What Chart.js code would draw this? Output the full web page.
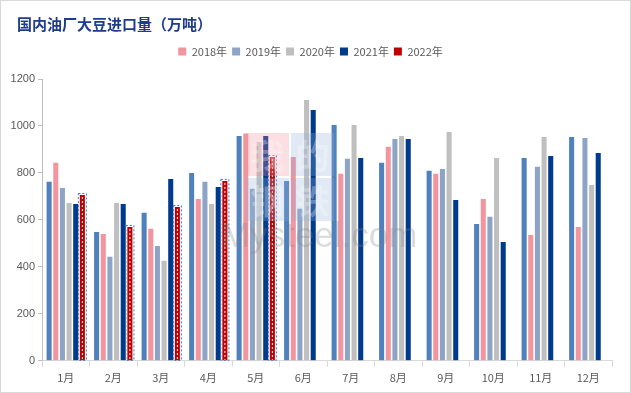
<!DOCTYPE html>
<html>
<head>
<meta charset="utf-8">
<script src="https://cdn.jsdelivr.net/npm/chart.js@4.4.1/dist/chart.umd.min.js"></script>
<style>
  body { margin: 0; background: #fff; }
  #box { width: 631px; height: 393px; box-sizing: border-box; border: 1px solid #d9d9d9; position: relative; }
  canvas { display: block; }
</style>
</head>
<body>
<div id="box"><canvas id="chart" width="629" height="391"></canvas></div>
<script>
// 国内油厂大豆进口量 (万吨)
var months = ['1月', '2月', '3月', '4月', '5月', '6月', '7月', '8月', '9月', '10月', '11月', '12月'];
var yearLabels = ['2017年', '2018年', '2019年', '2020年', '2021年', '2022年'];
var y2017 = [762, 549, 630, 800, 957, 766, 1004, 843, 809, 583, 864, 953];
var y2018 = [843, 540, 562, 689, 968, 868, 796, 911, 796, 689, 536, 570];
var y2019 = [736, 443, 489, 762, 733, 648, 860, 945, 817, 613, 826, 949];
var y2020 = [672, 672, 426, 668, 932, 1111, 1004, 957, 974, 864, 953, 749];
var y2021 = [668, 668, 774, 740, 957, 1068, 864, 945, 685, 506, 872, 885];
var y2022 = [706, 570, 655, 766, 868, null, null, null, null, null, null, null];
var yTicks = [0, 200, 400, 600, 800, 1000, 1200];

var colors = ['#4f81bd', '#f2959f', '#8ea4c6', '#bfbfbf', '#003a8c', '#c00000'];

// extra room under the legend, title nudged right
var layoutTweak = {
  id: 'layoutTweak',
  beforeInit: function(chart) {
    var fit = chart.legend.fit;
    chart.legend.fit = function() {
      fit.bind(chart.legend)();
      this.height += 12;
    };
  },
  afterLayout: function(chart) {
    chart.titleBlock.left = 16;
  }
};

// dashed look of the 2022 bars + faint watermark
var decoPlugin = {
  id: 'deco',
  afterDatasetsDraw: function(chart) {
    var ctx = chart.ctx;
    var meta = chart.getDatasetMeta(5);
    ctx.save();
    meta.data.forEach(function(bar, i) {
      if (y2022[i] == null) return;
      var w = bar.width, left = bar.x - w / 2, top = bar.y, h = bar.base - bar.y;
      ctx.setLineDash([2, 2]);
      ctx.strokeStyle = '#ffffff';
      ctx.lineWidth = 1;
      ctx.beginPath();
      ctx.moveTo(bar.x, top + 2);
      ctx.lineTo(bar.x, bar.base);
      ctx.stroke();
      ctx.strokeStyle = '#3a78c8';
      ctx.strokeRect(left - 1.5, top - 1.5, w + 3, h + 1.5);
    });
    ctx.restore();

    // watermark
    ctx.save();
    ctx.globalAlpha = 0.28;
    var wx = 245, wy = 132, s = 43;
    var cells = [['我', '#f08c96'], ['的', '#8fb0d8'], ['钢', '#8fb0d8'], ['铁', '#8fb0d8']];
    cells.forEach(function(c, k) {
      var cx = wx + (k % 2) * (s + 2), cy = wy + Math.floor(k / 2) * (s + 2);
      ctx.fillStyle = c[1];
      ctx.fillRect(cx, cy, s, s);
      ctx.fillStyle = '#ffffff';
      ctx.font = 'bold 34px "Noto Sans CJK SC"';
      ctx.textAlign = 'center';
      ctx.textBaseline = 'middle';
      ctx.fillText(c[0], cx + s / 2, cy + s / 2 + 2);
    });
    ctx.fillStyle = '#808080';
    ctx.font = '35px "Liberation Sans"';
    ctx.textAlign = 'left';
    ctx.textBaseline = 'middle';
    ctx.fillText('Mysteel.com', 220, 236);
    ctx.restore();
  }
};

var seriesData = [y2017, y2018, y2019, y2020, y2021, y2022];

new Chart(document.getElementById('chart'), {
  type: 'bar',
  data: {
    labels: months,
    datasets: seriesData.map(function(d, i) {
      return {
        label: yearLabels[i],
        data: d,
        backgroundColor: colors[i],
        categoryPercentage: 0.84,
        barPercentage: 0.76
      };
    })
  },
  options: {
    responsive: false,
    animation: false,
    layout: { padding: { left: 8, right: 18, top: 0, bottom: 4 } },
    plugins: {
      title: {
        display: true,
        text: '国内油厂大豆进口量（万吨）',
        align: 'start',
        color: '#1f3b8c',
        font: { family: '"Noto Sans CJK SC"', size: 15, weight: 'bold' },
        padding: { top: 14, bottom: 8 }
      },
      legend: {
        labels: {
          filter: function(item) { return item.datasetIndex > 0; },
          boxWidth: 8,
          boxHeight: 8,
          padding: 5,
          color: '#595959',
          font: { family: '"Noto Sans CJK SC"', size: 11 }
        }
      },
      tooltip: { enabled: false }
    },
    scales: {
      x: {
        grid: { drawOnChartArea: false, drawTicks: true, tickLength: 6, color: '#d9d9d9' },
        border: { color: '#d9d9d9' },
        ticks: { color: '#595959', font: { family: '"Noto Sans CJK SC"', size: 11 }, padding: 4 }
      },
      y: {
        min: 0,
        max: 1200,
        afterFit: function(axis) { axis.width = 33; },
        afterBuildTicks: function(axis) { axis.ticks = yTicks.map(function(v) { return { value: v }; }); },
        grid: { drawOnChartArea: false, drawTicks: true, tickLength: 4, color: '#bfbfbf' },
        border: { color: '#bfbfbf' },
        ticks: {
          color: '#595959',
          font: { family: '"Liberation Sans"', size: 11 },
          padding: 3,
          callback: function(v) { return String(v); }
        }
      }
    }
  },
  plugins: [layoutTweak, decoPlugin]
});
</script>
</body>
</html>
